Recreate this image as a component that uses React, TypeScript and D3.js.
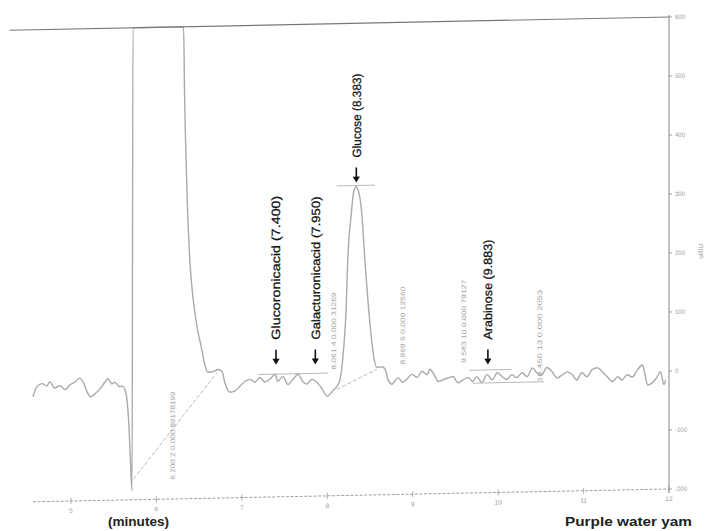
import React from 'react';
import * as d3 from 'd3';

// ---- data ----
const times = [
  4.555, 4.6, 4.66, 4.72, 4.75, 4.81, 4.87, 4.93, 4.99, 5.05, 5.1, 5.14, 5.19, 5.23, 5.28, 5.34, 5.4, 5.43, 5.48, 5.51,
  5.57, 5.6, 5.64, 5.68, 5.7, 5.715, 5.725, 6.318, 6.33, 6.35, 6.36, 6.39, 6.43, 6.48, 6.53, 6.57, 6.6, 6.66, 6.72, 6.77,
  6.8, 6.86, 6.92, 6.98, 7.04, 7.1, 7.15, 7.21, 7.27, 7.33, 7.39, 7.42, 7.48, 7.54, 7.6, 7.66, 7.71, 7.76, 7.82, 7.88,
  7.94, 8.0, 8.03, 8.06, 8.11, 8.15, 8.18, 8.22, 8.24, 8.28, 8.31, 8.34, 8.36, 8.4, 8.44, 8.49, 8.54, 8.58, 8.64, 8.68,
  8.71, 8.76, 8.79, 8.83, 8.88, 8.93, 8.99, 9.05, 9.11, 9.17, 9.2, 9.25, 9.3, 9.36, 9.42, 9.47, 9.53, 9.59, 9.65, 9.7,
  9.75, 9.81, 9.87, 9.93, 9.99, 10.05, 10.1, 10.16, 10.22, 10.28, 10.34, 10.4, 10.45, 10.51, 10.57, 10.63, 10.69, 10.75, 10.81, 10.87,
  10.92, 10.98, 11.04, 11.1, 11.16, 11.22, 11.28, 11.34, 11.4, 11.45, 11.51, 11.57, 11.63, 11.69, 11.72, 11.75, 11.8, 11.86, 11.9, 11.94,
  11.96,
];
const signal = [
  -22, -5, 0, -4, 3, -8, -4, -11, -3, 2, 8, 2, -16, -24, -19, -11, 1, 6, -3, 0,
  -8, -7, -17, -80, -150, -185, 900, 900, 480, 360, 308, 206, 138, 87, 53, 24, 14, 14, 18, 14,
  -4, -21, -19, -11, -3, 0, -5, 3, -5, 0, 8, -4, 4, -10, -1, 7, -5, -10, -2, -7,
  -19, -31, -28, -23, -15, -3, 31, 115, 200, 276, 315, 323, 318, 284, 199, 106, 38, 16, 17, 12,
  -5, -13, -8, -2, -10, -5, 3, -2, 8, 2, 11, 2, -10, -7, -4, -2, -13, -8, -4, -11,
  -3, -13, 0, -9, 3, -4, -9, -1, -6, 2, -5, 10, 2, -2, 10, 3, -8, -3, 2, -3,
  -12, 0, -7, 5, 8, 1, -8, -16, -8, -14, -5, -9, 3, 11, -6, -23, -20, -10, -1, -23,
  -15,
];

const xTicks = [5, 6, 7, 8, 9, 10, 11, 12];
const yTicks = [600, 500, 400, 300, 200, 100, 0, -100, -200];

const peakNames = ['Glucoronicacid (7.400)', 'Galacturonicacid (7.950)', 'Glucose (8.383)', 'Arabinose (9.883)'];
const peakArrowTimes = [7.4, 7.86, 8.34, 9.88];
const peakArrowTips = [24, 23, 330, 17];

const intLabels = [
  '6.200  2  0.000  89178199',
  '8.061  4  0.000  31269',
  '8.869  5  0.000  12560',
  '9.583  10  0.000  79127',
  '10.450  13  0.000  2053',
];
const intLabelTimes = [6.19, 8.08, 8.88, 9.6, 10.49];
const intLabelBase = [-167, 14, 20, 21, -14];

// integration baselines (dashed) and reference segments: [t1, v1, t2, v2]
const intBaselines = [
  [5.73, -165, 6.71, 13],
  [8.11, -20, 8.58, 13],
];
const refSegments = [
  [8.11, 325, 8.56, 325],
  [7.19, 8, 8.01, 8],
  [9.66, 8, 10.15, 8],
  [9.7, -14, 10.54, -14],
];

// ---- layout ----
const W = 709;
const H = 531;
const NAME_LEN = [144, 143, 84, 100];
const INT_LEN = [88, 77, 78, 83, 92];
const FONT = '"Liberation Sans Narrow", "Arial Narrow", "Liberation Sans", Arial, sans-serif';

export default function App() {
  const x = d3.scaleLinear().domain([5, 12]).range([71, 669]);
  const y = d3.scaleLinear().domain([-200, 600]).range([489, 17]).clamp(true);
  const pts: [number, number][] = times.map((t, i) => [t, signal[i]]);
  const line = d3
    .line<[number, number]>()
    .x((d) => x(d[0]))
    .y((d) => y(d[1]))
    .curve(d3.curveMonotoneX);
  const axX = x(12);
  const axY = y(-200);

  return (
    <svg
      width={W}
      height={H}
      viewBox={`0 0 ${W} ${H}`}
      style={{ position: 'absolute', left: 0, top: 0, background: '#fff', display: 'block' }}
    >
      <rect x={0} y={0} width={W} height={H} fill="#fff" />
      <g transform={`translate(${axX},0) skewY(-1.15) translate(${-axX},0)`}>
        {/* signal trace */}
        <path d={line(pts) || ''} fill="none" stroke="#a9a9a9" strokeWidth={1.4} strokeLinejoin="round" />

        {/* top frame line */}
        <line x1={x(4.28)} x2={axX} y1={y(600)} y2={y(600)} stroke="#777" strokeWidth={1.2} />

        {/* right axis */}
        <line x1={axX} x2={axX} y1={y(600) - 2} y2={axY + 4} stroke="#888" strokeWidth={1} />
        {yTicks.map((v) => (
          <g key={v}>
            <line x1={axX} x2={axX + 3} y1={y(v)} y2={y(v)} stroke="#888" strokeWidth={0.8} />
            <text x={axX + 6} y={y(v) + 2} fontSize={6} fill="#999" fontFamily={FONT}>
              {v}
            </text>
          </g>
        ))}
        <text
          transform={`translate(${703},${252}) rotate(-90)`}
          fontSize={6.5}
          fill="#999"
          fontFamily={FONT}
          textAnchor="middle"
        >
          uRIU
        </text>

        {/* bottom axis */}
        <line
          x1={x(4.555)}
          x2={axX}
          y1={axY}
          y2={axY}
          stroke="#a0a0a0"
          strokeWidth={1}
          strokeDasharray="3,1.6"
        />
        {xTicks.map((t) => (
          <g key={t}>
            <line x1={x(t)} x2={x(t)} y1={axY - 3} y2={axY + 3} stroke="#999" strokeWidth={0.8} />
            <text
              x={x(t)}
              y={axY + 12}
              fontSize={6.5}
              fill="#999"
              textAnchor="middle"
              fontFamily={FONT}
            >
              {t}
            </text>
          </g>
        ))}

        {/* integration baselines */}
        {intBaselines.map((s, i) => (
          <line
            key={'ib' + i}
            x1={x(s[0])}
            y1={y(s[1])}
            x2={x(s[2])}
            y2={y(s[3])}
            stroke="#b0b0b0"
            strokeWidth={0.9}
            strokeDasharray="4,2"
          />
        ))}
        {refSegments.map((s, i) => (
          <line
            key={'rs' + i}
            x1={x(s[0])}
            y1={y(s[1])}
            x2={x(s[2])}
            y2={y(s[3])}
            stroke="#a8a8a8"
            strokeWidth={0.8}
          />
        ))}

        {/* integration labels */}
        {intLabels.map((s, i) => (
          <text
            key={'il' + i}
            transform={`translate(${x(intLabelTimes[i])},${y(intLabelBase[i])}) rotate(-90)`}
            fontSize={6.5}
            fill="#a0a0a0"
            fontFamily={FONT}
            dy="0.35em"
            textLength={INT_LEN[i]}
            lengthAdjust="spacingAndGlyphs"
          >
            {s}
          </text>
        ))}

        {/* peak annotations */}
        {peakNames.map((name, i) => {
          const ax = x(peakArrowTimes[i]);
          const tip = y(peakArrowTips[i]);
          return (
            <g key={'pk' + i}>
              <line x1={ax} x2={ax} y1={tip - 15} y2={tip - 4} stroke="#111" strokeWidth={1.6} />
              <path d={`M${ax - 3.6},${tip - 6} L${ax + 3.6},${tip - 6} L${ax},${tip} Z`} fill="#111" />
              <text
                transform={`translate(${ax},${tip - 25}) rotate(-90)`}
                fontSize={12}
                fill="#111"
                stroke="#111"
                strokeWidth={0.25}
                fontFamily={FONT}
                dy="0.35em"
                textLength={NAME_LEN[i]}
                lengthAdjust="spacingAndGlyphs"
              >
                {name}
              </text>
            </g>
          );
        })}
      </g>

      {/* page labels */}
      <text
        x={108}
        y={526}
        fontSize={13}
        fill="#222"
        fontWeight="bold"
        fontFamily={FONT}
        textLength={61}
        lengthAdjust="spacingAndGlyphs"
      >
        (minutes)
      </text>
      <text
        x={565}
        y={526}
        fontSize={13}
        fill="#222"
        fontWeight="bold"
        fontFamily={FONT}
        textLength={127}
        lengthAdjust="spacingAndGlyphs"
      >
        Purple water yam
      </text>
    </svg>
  );
}
